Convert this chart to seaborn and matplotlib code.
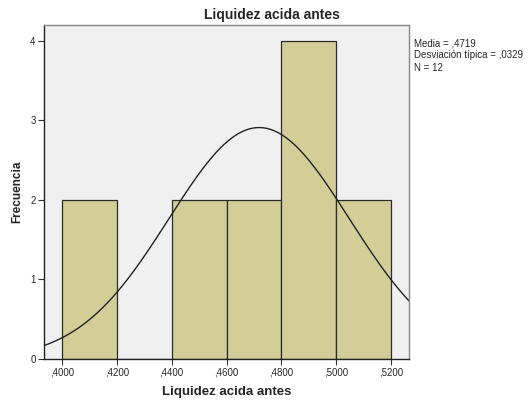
import numpy as np
import pandas as pd
import matplotlib
matplotlib.use('Agg')
import matplotlib.pyplot as plt
from matplotlib.ticker import FuncFormatter
import seaborn as sns

# histogram data
bin_edges = [0.40, 0.42, 0.44, 0.46, 0.48, 0.50, 0.52]
counts = [2, 0, 2, 2, 4, 2]
media = 0.4719
desv = 0.0329
n = 12

sns.set_style("white")
plt.rcParams['font.family'] = ['Liberation Sans', 'DejaVu Sans']

centers = [(a + b) / 2 for a, b in zip(bin_edges[:-1], bin_edges[1:])]
df = pd.DataFrame({'x': centers, 'w': counts})

fig = plt.figure(figsize=(5.29, 4.01), dpi=100)
ax = fig.add_axes([0.0832, 0.1047, 0.690, 0.833])
ax.set_facecolor('#f0f0f0')

sns.histplot(data=df, x='x', weights='w', bins=bin_edges, ax=ax,
             color='#d3cd98', alpha=1, edgecolor='#2b2b2b', linewidth=0.9)

# normal curve
xs = np.linspace(0.3934, 0.5266, 300)
binw = bin_edges[1] - bin_edges[0]
ys = n * binw * np.exp(-0.5 * ((xs - media) / desv) ** 2) / (desv * np.sqrt(2 * np.pi))
sns.lineplot(x=xs, y=ys, ax=ax, color='#222222', linewidth=1.0)

ax.set_xlim(0.3934, 0.5266)
ax.set_ylim(0, 4.2)
ax.set_xticks(bin_edges)
ax.xaxis.set_major_formatter(FuncFormatter(lambda v, p: ('%.4f' % v).replace('0.', ',')))
ax.set_yticks([0, 1, 2, 3, 4])
ax.tick_params(axis='both', labelsize=7, length=4, width=0.8, color='#333333', direction='out',
               bottom=True, left=True, pad=2)

for s in ['left', 'bottom']:
    ax.spines[s].set_color('#222222')
    ax.spines[s].set_linewidth(1.0)
for s in ['top', 'right']:
    ax.spines[s].set_color('#888888')
    ax.spines[s].set_linewidth(1.0)

fig.text(272 / 529, 1 - 15 / 401, 'Liquidez acida antes', fontsize=10, fontweight='bold',
         ha='center', va='center')
ax.set_xlabel('Liquidez acida antes', fontsize=9.5, fontweight='bold', labelpad=6)
ax.set_ylabel('')
fig.text(17 / 529, 0.5 * (1 - 25 / 401) + 0.5 * (1 - 359 / 401), 'Frecuencia', fontsize=8.5,
         fontweight='bold', rotation=90, ha='center', va='center')

fig.text(0.783, 1 - 38 / 401, 'Media = ,4719\nDesviación típica = ,0329\nN = 12',
         fontsize=7, va='top', ha='left', linespacing=1.3)

fig.savefig('out.png', dpi=100)
